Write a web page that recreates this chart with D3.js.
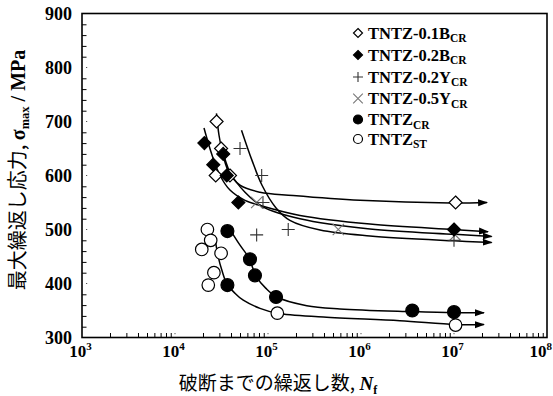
<!DOCTYPE html>
<html>
<head>
<meta charset="utf-8">
<script src="https://cdn.jsdelivr.net/npm/d3@7"></script>
<style>
  html, body { margin: 0; padding: 0; background: #fff; }
  svg { display: block; }
</style>
</head>
<body>
<svg id="chart" width="553" height="396"></svg>
<script>
// ---- data: cycles to failure (N) and maximum stress (MPa) ----
const xTickExps = [3, 4, 5, 6, 7, 8];
const yTicks = [300, 400, 500, 600, 700, 800, 900];

// measured points
const pts01B = [[28000, 700], [31300, 650], [27400, 600], [39000, 600], [1.04e7, 550]];
const pts02B = [[20700, 660], [33000, 640], [25800, 620], [36000, 600], [48000, 550], [1.0e7, 500]];
const pts02Y = [[50000, 650], [85500, 600], [88300, 550], [165000, 500], [75500, 490], [1.0e7, 480]];
const pts05Y = [[75500, 550], [570000, 500], [1.03e7, 490]];
const ptsCR  = [[36600, 497], [64000, 445], [72400, 415], [36600, 397], [122000, 375], [3.56e6, 350], [1.0e7, 347]];
const ptsST  = [[22300, 500], [24200, 480], [19400, 463], [31300, 456], [26200, 420], [22800, 397], [126000, 345], [1.04e7, 323]];

// S-N trend curves (end with run-out arrows)
const crv01B = [[27900, 715], [29700, 675], [32000, 647], [37100, 610], [50000, 582], [82000, 569], [186000, 563], [975000, 554], [9.06e6, 549], [2.27e7, 550]];
const crv02B = [[20500, 688], [25000, 638], [30500, 600], [39000, 573], [56600, 554], [88300, 543], [221000, 526], [1.25e6, 510], [9.76e6, 500], [2.32e7, 496]];
const crv05Y = [[32000, 651], [39000, 606], [56600, 569], [88300, 542], [221000, 520], [1.25e6, 501], [1.03e7, 491], [2.54e7, 487]];
const crv02Y = [[51900, 684], [67300, 628], [86200, 582], [122000, 540], [172000, 517], [363000, 499], [1.25e6, 488], [1.0e7, 479], [2.54e7, 476]];
const crvCR  = [[37400, 505], [50000, 471], [61400, 449], [75500, 412], [95000, 391], [124000, 375], [261000, 359], [594000, 353], [3.53e6, 348], [1.0e7, 346], [2.1e7, 346]];
const crvST  = [[26900, 484], [29200, 449], [32000, 424], [36000, 400], [44100, 382], [54200, 369], [82000, 354], [126000, 345], [394000, 338], [2.62e6, 331], [1.04e7, 324], [2.1e7, 324]];

const legendLabels = ["TNTZ-0.1B", "TNTZ-0.2B", "TNTZ-0.2Y", "TNTZ-0.5Y", "TNTZ", "TNTZ"];
const legendSubs = ["CR", "CR", "CR", "CR", "CR", "ST"];
const legendKinds = ["diamondOpen", "diamondFill", "plus", "cross", "circleFill", "circleOpen"];

// ---- layout ----
const svg = d3.select("#chart");
const X0 = 82, X1 = 547, Y0 = 337.5, Y1 = 13.5;
const x = d3.scaleLog().domain([1e3, 1e8]).range([X0, X1]);
const y = d3.scaleLinear().domain([300, 900]).range([Y0, Y1]);
const SERIF = "'Liberation Serif', 'Times New Roman', serif";
const CJK = "'Noto Sans CJK JP', 'Noto Sans', sans-serif";

// arrowhead for run-out curves
svg.append("defs").append("marker")
  .attr("id", "arrow").attr("viewBox", "0 0 10 8")
  .attr("refX", 9).attr("refY", 4)
  .attr("markerWidth", 10).attr("markerHeight", 8)
  .attr("markerUnits", "userSpaceOnUse")
  .attr("orient", "auto")
  .append("path").attr("d", "M0,0.5 L10,4 L0,7.5 Z").attr("fill", "#000");

// minor ticks (inward)
const xMinor = [];
for (let e = 3; e < 8; e++) for (let m = 2; m <= 9; m++) xMinor.push(m * Math.pow(10, e));
svg.append("g").attr("transform", `translate(0,${Y0})`)
  .call(d3.axisBottom(x).tickValues(xMinor).tickSize(-4.5).tickFormat(""))
  .call(g => g.select(".domain").remove())
  .call(g => g.selectAll("line").attr("stroke", "#000").attr("stroke-width", 1));

const yMinor = d3.range(320, 900, 20).filter(v => v % 100 !== 0);
svg.append("g").attr("transform", `translate(${X0},0)`)
  .call(d3.axisLeft(y).tickValues(yMinor).tickSize(-4.5).tickFormat(""))
  .call(g => g.select(".domain").remove())
  .call(g => g.selectAll("line").attr("stroke", "#000").attr("stroke-width", 1));

// faint major tick marks
svg.append("g").selectAll("rect").data(xTickExps.slice(1, -1)).join("rect")
  .attr("x", d => x(Math.pow(10, d)) - 0.5).attr("y", Y0 - 4.5).attr("width", 1).attr("height", 1.2).attr("fill", "#555");
svg.append("g").selectAll("rect").data(yTicks.slice(1, -1)).join("rect")
  .attr("x", X0 + 4).attr("y", d => y(d) - 0.5).attr("width", 1.2).attr("height", 1).attr("fill", "#555");

// frame
svg.append("rect").attr("x", X0).attr("y", Y1).attr("width", X1 - X0).attr("height", Y0 - Y1)
  .attr("fill", "none").attr("stroke", "#000").attr("stroke-width", 1.6);

// tick labels
svg.append("g").selectAll("text").data(yTicks).join("text")
  .attr("x", 72).attr("y", d => y(d) + 6.3)
  .attr("text-anchor", "end")
  .attr("font-family", SERIF).attr("font-weight", "bold").attr("font-size", 18)
  .text(d => d);

const xl = svg.append("g").selectAll("text").data(xTickExps).join("text")
  .attr("x", (d, i) => i === xTickExps.length - 1 ? 552 : x(Math.pow(10, d)) - 1.5)
  .attr("y", 357)
  .attr("text-anchor", (d, i) => i === xTickExps.length - 1 ? "end" : "middle")
  .attr("font-family", SERIF).attr("font-weight", "bold").attr("font-size", 17);
xl.append("tspan").text("10");
xl.append("tspan").attr("dy", -7).attr("font-size", 11).text(d => d);

// axis titles
const xt = svg.append("text").attr("x", 278).attr("y", 390).attr("text-anchor", "middle").attr("font-size", 19);
xt.append("tspan").attr("font-family", CJK).text("破断までの繰返し数, ");
xt.append("tspan").attr("font-family", SERIF).attr("font-weight", "bold").attr("font-style", "italic").text("N");
xt.append("tspan").attr("font-family", SERIF).attr("font-weight", "bold").attr("font-size", 12).attr("dy", 4).text("f");

const yt = svg.append("text").attr("transform", "translate(25,170) rotate(-90)").attr("text-anchor", "middle").attr("font-size", 20);
yt.append("tspan").attr("font-family", CJK).text("最大繰返し応力, ");
yt.append("tspan").attr("font-family", SERIF).attr("font-weight", "bold").text("σ");
yt.append("tspan").attr("font-family", SERIF).attr("font-weight", "bold").attr("font-size", 12.5).attr("dy", 4).text("max");
yt.append("tspan").attr("font-family", SERIF).attr("font-weight", "bold").attr("dy", -4).text(" / MPa");

// curves
const line = d3.line().x(d => x(d[0])).y(d => y(d[1])).curve(d3.curveCatmullRom.alpha(0.5));
const curves = [crv01B, crv02B, crv05Y, crv02Y, crvCR, crvST];
svg.append("g").selectAll("path").data(curves).join("path")
  .attr("d", line).attr("fill", "none").attr("stroke", "#000").attr("stroke-width", 1.5)
  .attr("marker-end", "url(#arrow)");

// marker drawing
function drawMarker(g, kind, cx, cy, s) {
  if (kind === "diamondOpen" || kind === "diamondFill") {
    g.append("path").attr("d", `M${cx},${cy - s} L${cx + s},${cy} L${cx},${cy + s} L${cx - s},${cy} Z`)
      .attr("fill", kind === "diamondFill" ? "#000" : "#fff").attr("stroke", "#000").attr("stroke-width", 1.2);
  } else if (kind === "circleOpen" || kind === "circleFill") {
    g.append("circle").attr("cx", cx).attr("cy", cy).attr("r", s * 0.98)
      .attr("fill", kind === "circleFill" ? "#000" : "#fff").attr("stroke", "#000").attr("stroke-width", 1.2);
  } else if (kind === "plus") {
    g.append("path").attr("d", `M${cx - s},${cy} H${cx + s} M${cx},${cy - s} V${cy + s}`)
      .attr("stroke", "#333").attr("stroke-width", 1.1).attr("fill", "none");
  } else if (kind === "cross") {
    const k = s * 0.8;
    g.append("path").attr("d", `M${cx - k},${cy - k} L${cx + k},${cy + k} M${cx - k},${cy + k} L${cx + k},${cy - k}`)
      .attr("stroke", "#777").attr("stroke-width", 1.1).attr("fill", "none");
  }
}

const series = [
  [pts05Y, "cross", 7], [pts02Y, "plus", 6.5], [pts01B, "diamondOpen", 6.5],
  [pts02B, "diamondFill", 6.5], [ptsST, "circleOpen", 6.4], [ptsCR, "circleFill", 6.6]
];
const gm = svg.append("g");
series.forEach(([pts, kind, s]) => pts.forEach(p => drawMarker(gm, kind, x(p[0]), y(p[1]), s)));

// legend
const legendY = [33, 55, 77, 98.5, 119.5, 139];
const lg = svg.append("g");
legendLabels.forEach((lab, i) => {
  const sz = { diamondOpen: 4.5, diamondFill: 4.5, plus: 5, cross: 6, circleFill: 4.6, circleOpen: 4.6 }[legendKinds[i]];
  drawMarker(lg, legendKinds[i], 358, legendY[i], sz);
  const t = lg.append("text").attr("x", 368).attr("y", legendY[i] + 5.5)
    .attr("font-family", SERIF).attr("font-weight", "bold").attr("font-size", 16.5);
  t.append("tspan").text(lab);
  t.append("tspan").attr("font-size", 11.5).attr("dy", 3.5).text(legendSubs[i]);
});
</script>
</body>
</html>
